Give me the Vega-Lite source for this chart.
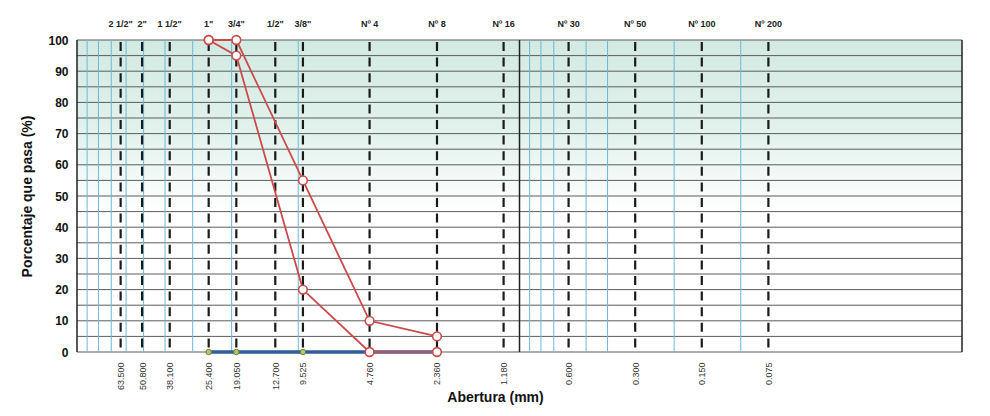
{
  "$schema": "https://vega.github.io/schema/vega-lite/v6.json",
  "width": 885,
  "height": 312,
  "autosize": {"type": "none"},
  "padding": {"left": 77, "top": 40, "right": 28, "bottom": 64},
  "background": "white",
  "config": {"view": {"stroke": null}, "font": "Liberation Sans"},
  "datasets": {
    "sieves": [
      {"name": "2 1/2\"", "mm": 63.5},
      {"name": "2\"", "mm": 50.8},
      {"name": "1 1/2\"", "mm": 38.1},
      {"name": "1\"", "mm": 25.4},
      {"name": "3/4\"", "mm": 19.05},
      {"name": "1/2\"", "mm": 12.7},
      {"name": "3/8\"", "mm": 9.525},
      {"name": "Nº 4", "mm": 4.76},
      {"name": "Nº 8", "mm": 2.36},
      {"name": "Nº 16", "mm": 1.18},
      {"name": "Nº 30", "mm": 0.6},
      {"name": "Nº 50", "mm": 0.3},
      {"name": "Nº 100", "mm": 0.15},
      {"name": "Nº 200", "mm": 0.075}
    ],
    "bluegrid": [
      {"mm": 90}, {"mm": 80}, {"mm": 70}, {"mm": 60}, {"mm": 50}, {"mm": 40}, {"mm": 30}, {"mm": 20}, {"mm": 10},
      {"mm": 0.9}, {"mm": 0.8}, {"mm": 0.7}, {"mm": 0.5}, {"mm": 0.4}, {"mm": 0.2}, {"mm": 0.1}
    ],
    "blackgrid": [{"mm": 100}, {"mm": 1}, {"mm": 0.01}],
    "hgrid": [
      {"pct": 0}, {"pct": 5}, {"pct": 10}, {"pct": 15}, {"pct": 20}, {"pct": 25}, {"pct": 30}, {"pct": 35}, {"pct": 40}, {"pct": 45}, {"pct": 50},
      {"pct": 55}, {"pct": 60}, {"pct": 65}, {"pct": 70}, {"pct": 75}, {"pct": 80}, {"pct": 85}, {"pct": 90}, {"pct": 95}, {"pct": 100}
    ],
    "sample": [
      {"mm": 25.4, "pct": 0},
      {"mm": 19.05, "pct": 0},
      {"mm": 9.525, "pct": 0},
      {"mm": 4.76, "pct": 0},
      {"mm": 2.36, "pct": 0}
    ],
    "limits": [
      {"series": "superior", "mm": 25.4, "pct": 100},
      {"series": "superior", "mm": 19.05, "pct": 100},
      {"series": "superior", "mm": 9.525, "pct": 55},
      {"series": "superior", "mm": 4.76, "pct": 10},
      {"series": "superior", "mm": 2.36, "pct": 5},
      {"series": "inferior", "mm": 25.4, "pct": 100},
      {"series": "inferior", "mm": 19.05, "pct": 95},
      {"series": "inferior", "mm": 9.525, "pct": 20},
      {"series": "inferior", "mm": 4.76, "pct": 0},
      {"series": "inferior", "mm": 2.36, "pct": 0}
    ],
    "frame": [{"from": 100, "to": 0.01}]
  },
  "layer": [
    {
      "data": {"name": "frame"},
      "mark": {
        "type": "rect",
        "fill": {
          "gradient": "linear", "x1": 0, "y1": 0, "x2": 0, "y2": 1,
          "stops": [
            {"offset": 0, "color": "#d2eae2"},
            {"offset": 0.3, "color": "#e2f2ec"},
            {"offset": 0.55, "color": "#ffffff"},
            {"offset": 1, "color": "#ffffff"}
          ]
        }
      },
      "encoding": {
        "x": {"field": "from", "type": "quantitative", "scale": {"type": "log", "domain": [0.01, 100], "reverse": true},
          "axis": {"values": [63.5, 50.8, 38.1, 25.4, 19.05, 12.7, 9.525, 4.76, 2.36, 1.18, 0.6, 0.3, 0.15, 0.075], "format": ".3f", "labelAngle": -90, "labelFontSize": 9, "labelColor": "#333", "labelPadding": 10, "ticks": false, "domain": false, "grid": false, "title": "Abertura (mm)", "titleFontSize": 14, "titleFontWeight": "bold", "titleColor": "#111", "titleX": 418, "titleY": 45, "titleAlign": "center", "titleBaseline": "middle"}},
        "x2": {"field": "to"},
        "y": {"datum": 100, "type": "quantitative", "scale": {"domain": [0, 100]},
          "axis": {"values": [0, 10, 20, 30, 40, 50, 60, 70, 80, 90, 100], "ticks": false, "domain": false, "grid": false, "labelFontSize": 12, "labelFontWeight": "bold", "labelColor": "#111", "labelPadding": 9, "title": "Porcentaje que pasa (%)", "titleFontSize": 14, "titleFontWeight": "bold", "titleColor": "#111", "titleX": -50, "titleY": 156, "titleAlign": "center", "titleBaseline": "middle", "titleAngle": -90}},
        "y2": {"datum": 0}
      }
    },
    {
      "data": {"name": "hgrid"},
      "mark": {"type": "rule", "color": "#5c5c5c", "strokeWidth": 1},
      "encoding": {
        "x": {"datum": 100, "type": "quantitative", "scale": {"type": "log", "domain": [0.01, 100], "reverse": true},
          "axis": {"values": [63.5, 50.8, 38.1, 25.4, 19.05, 12.7, 9.525, 4.76, 2.36, 1.18, 0.6, 0.3, 0.15, 0.075], "format": ".3f", "labelAngle": -90, "labelFontSize": 9, "labelColor": "#333", "labelPadding": 10, "ticks": false, "domain": false, "grid": false, "title": "Abertura (mm)", "titleFontSize": 14, "titleFontWeight": "bold", "titleColor": "#111", "titleX": 418, "titleY": 45, "titleAlign": "center", "titleBaseline": "middle"}},
        "x2": {"datum": 0.01},
        "y": {"field": "pct", "type": "quantitative", "scale": {"domain": [0, 100]},
          "axis": {"values": [0, 10, 20, 30, 40, 50, 60, 70, 80, 90, 100], "ticks": false, "domain": false, "grid": false, "labelFontSize": 12, "labelFontWeight": "bold", "labelColor": "#111", "labelPadding": 9, "title": "Porcentaje que pasa (%)", "titleFontSize": 14, "titleFontWeight": "bold", "titleColor": "#111", "titleX": -50, "titleY": 156, "titleAlign": "center", "titleBaseline": "middle", "titleAngle": -90}}
      }
    },
    {
      "data": {"name": "bluegrid"},
      "mark": {"type": "rule", "color": "#6cb9d6", "strokeWidth": 1},
      "encoding": {
        "x": {"field": "mm", "type": "quantitative", "scale": {"type": "log", "domain": [0.01, 100], "reverse": true},
          "axis": {"values": [63.5, 50.8, 38.1, 25.4, 19.05, 12.7, 9.525, 4.76, 2.36, 1.18, 0.6, 0.3, 0.15, 0.075], "format": ".3f", "labelAngle": -90, "labelFontSize": 9, "labelColor": "#333", "labelPadding": 10, "ticks": false, "domain": false, "grid": false, "title": "Abertura (mm)", "titleFontSize": 14, "titleFontWeight": "bold", "titleColor": "#111", "titleX": 418, "titleY": 45, "titleAlign": "center", "titleBaseline": "middle"}},
        "y": {"datum": 0, "type": "quantitative", "scale": {"domain": [0, 100]},
          "axis": {"values": [0, 10, 20, 30, 40, 50, 60, 70, 80, 90, 100], "ticks": false, "domain": false, "grid": false, "labelFontSize": 12, "labelFontWeight": "bold", "labelColor": "#111", "labelPadding": 9, "title": "Porcentaje que pasa (%)", "titleFontSize": 14, "titleFontWeight": "bold", "titleColor": "#111", "titleX": -50, "titleY": 156, "titleAlign": "center", "titleBaseline": "middle", "titleAngle": -90}},
        "y2": {"datum": 100}
      }
    },
    {
      "data": {"name": "blackgrid"},
      "mark": {"type": "rule", "color": "#222", "strokeWidth": 1.5},
      "encoding": {
        "x": {"field": "mm", "type": "quantitative", "scale": {"type": "log", "domain": [0.01, 100], "reverse": true},
          "axis": {"values": [63.5, 50.8, 38.1, 25.4, 19.05, 12.7, 9.525, 4.76, 2.36, 1.18, 0.6, 0.3, 0.15, 0.075], "format": ".3f", "labelAngle": -90, "labelFontSize": 9, "labelColor": "#333", "labelPadding": 10, "ticks": false, "domain": false, "grid": false, "title": "Abertura (mm)", "titleFontSize": 14, "titleFontWeight": "bold", "titleColor": "#111", "titleX": 418, "titleY": 45, "titleAlign": "center", "titleBaseline": "middle"}},
        "y": {"datum": 0, "type": "quantitative", "scale": {"domain": [0, 100]},
          "axis": {"values": [0, 10, 20, 30, 40, 50, 60, 70, 80, 90, 100], "ticks": false, "domain": false, "grid": false, "labelFontSize": 12, "labelFontWeight": "bold", "labelColor": "#111", "labelPadding": 9, "title": "Porcentaje que pasa (%)", "titleFontSize": 14, "titleFontWeight": "bold", "titleColor": "#111", "titleX": -50, "titleY": 156, "titleAlign": "center", "titleBaseline": "middle", "titleAngle": -90}},
        "y2": {"datum": 100}
      }
    },
    {
      "data": {"name": "sieves"},
      "mark": {"type": "rule", "color": "#1a1a1a", "strokeWidth": 2.2, "strokeDash": [9, 6.6], "strokeDashOffset": -2},
      "encoding": {
        "x": {"field": "mm", "type": "quantitative", "scale": {"type": "log", "domain": [0.01, 100], "reverse": true},
          "axis": {"values": [63.5, 50.8, 38.1, 25.4, 19.05, 12.7, 9.525, 4.76, 2.36, 1.18, 0.6, 0.3, 0.15, 0.075], "format": ".3f", "labelAngle": -90, "labelFontSize": 9, "labelColor": "#333", "labelPadding": 10, "ticks": false, "domain": false, "grid": false, "title": "Abertura (mm)", "titleFontSize": 14, "titleFontWeight": "bold", "titleColor": "#111", "titleX": 418, "titleY": 45, "titleAlign": "center", "titleBaseline": "middle"}},
        "y": {"datum": 100, "type": "quantitative", "scale": {"domain": [0, 100]},
          "axis": {"values": [0, 10, 20, 30, 40, 50, 60, 70, 80, 90, 100], "ticks": false, "domain": false, "grid": false, "labelFontSize": 12, "labelFontWeight": "bold", "labelColor": "#111", "labelPadding": 9, "title": "Porcentaje que pasa (%)", "titleFontSize": 14, "titleFontWeight": "bold", "titleColor": "#111", "titleX": -50, "titleY": 156, "titleAlign": "center", "titleBaseline": "middle", "titleAngle": -90}},
        "y2": {"datum": 0}
      }
    },
    {
      "data": {"name": "sieves"},
      "mark": {"type": "text", "fontSize": 9, "fontWeight": "bold", "color": "#222", "dy": -16, "baseline": "middle", "align": "center"},
      "encoding": {
        "x": {"field": "mm", "type": "quantitative", "scale": {"type": "log", "domain": [0.01, 100], "reverse": true},
          "axis": {"values": [63.5, 50.8, 38.1, 25.4, 19.05, 12.7, 9.525, 4.76, 2.36, 1.18, 0.6, 0.3, 0.15, 0.075], "format": ".3f", "labelAngle": -90, "labelFontSize": 9, "labelColor": "#333", "labelPadding": 10, "ticks": false, "domain": false, "grid": false, "title": "Abertura (mm)", "titleFontSize": 14, "titleFontWeight": "bold", "titleColor": "#111", "titleX": 418, "titleY": 45, "titleAlign": "center", "titleBaseline": "middle"}},
        "y": {"datum": 100, "type": "quantitative", "scale": {"domain": [0, 100]},
          "axis": {"values": [0, 10, 20, 30, 40, 50, 60, 70, 80, 90, 100], "ticks": false, "domain": false, "grid": false, "labelFontSize": 12, "labelFontWeight": "bold", "labelColor": "#111", "labelPadding": 9, "title": "Porcentaje que pasa (%)", "titleFontSize": 14, "titleFontWeight": "bold", "titleColor": "#111", "titleX": -50, "titleY": 156, "titleAlign": "center", "titleBaseline": "middle", "titleAngle": -90}},
        "text": {"field": "name"}
      }
    },
    {
      "data": {"name": "sample"},
      "mark": {"type": "line", "color": "#2d5d9c", "strokeWidth": 3.5},
      "encoding": {
        "x": {"field": "mm", "type": "quantitative", "scale": {"type": "log", "domain": [0.01, 100], "reverse": true},
          "axis": {"values": [63.5, 50.8, 38.1, 25.4, 19.05, 12.7, 9.525, 4.76, 2.36, 1.18, 0.6, 0.3, 0.15, 0.075], "format": ".3f", "labelAngle": -90, "labelFontSize": 9, "labelColor": "#333", "labelPadding": 10, "ticks": false, "domain": false, "grid": false, "title": "Abertura (mm)", "titleFontSize": 14, "titleFontWeight": "bold", "titleColor": "#111", "titleX": 418, "titleY": 45, "titleAlign": "center", "titleBaseline": "middle"}},
        "y": {"field": "pct", "type": "quantitative", "scale": {"domain": [0, 100]},
          "axis": {"values": [0, 10, 20, 30, 40, 50, 60, 70, 80, 90, 100], "ticks": false, "domain": false, "grid": false, "labelFontSize": 12, "labelFontWeight": "bold", "labelColor": "#111", "labelPadding": 9, "title": "Porcentaje que pasa (%)", "titleFontSize": 14, "titleFontWeight": "bold", "titleColor": "#111", "titleX": -50, "titleY": 156, "titleAlign": "center", "titleBaseline": "middle", "titleAngle": -90}}
      }
    },
    {
      "data": {"name": "sample"},
      "mark": {"type": "point", "filled": true, "fill": "#b8c667", "stroke": "#6a7f35", "strokeWidth": 1, "size": 30, "opacity": 1},
      "encoding": {
        "x": {"field": "mm", "type": "quantitative", "scale": {"type": "log", "domain": [0.01, 100], "reverse": true},
          "axis": {"values": [63.5, 50.8, 38.1, 25.4, 19.05, 12.7, 9.525, 4.76, 2.36, 1.18, 0.6, 0.3, 0.15, 0.075], "format": ".3f", "labelAngle": -90, "labelFontSize": 9, "labelColor": "#333", "labelPadding": 10, "ticks": false, "domain": false, "grid": false, "title": "Abertura (mm)", "titleFontSize": 14, "titleFontWeight": "bold", "titleColor": "#111", "titleX": 418, "titleY": 45, "titleAlign": "center", "titleBaseline": "middle"}},
        "y": {"field": "pct", "type": "quantitative", "scale": {"domain": [0, 100]},
          "axis": {"values": [0, 10, 20, 30, 40, 50, 60, 70, 80, 90, 100], "ticks": false, "domain": false, "grid": false, "labelFontSize": 12, "labelFontWeight": "bold", "labelColor": "#111", "labelPadding": 9, "title": "Porcentaje que pasa (%)", "titleFontSize": 14, "titleFontWeight": "bold", "titleColor": "#111", "titleX": -50, "titleY": 156, "titleAlign": "center", "titleBaseline": "middle", "titleAngle": -90}}
      }
    },
    {
      "data": {"name": "limits"},
      "mark": {"type": "line", "color": "#cc4a4a", "strokeWidth": 1.8},
      "encoding": {
        "x": {"field": "mm", "type": "quantitative", "scale": {"type": "log", "domain": [0.01, 100], "reverse": true},
          "axis": {"values": [63.5, 50.8, 38.1, 25.4, 19.05, 12.7, 9.525, 4.76, 2.36, 1.18, 0.6, 0.3, 0.15, 0.075], "format": ".3f", "labelAngle": -90, "labelFontSize": 9, "labelColor": "#333", "labelPadding": 10, "ticks": false, "domain": false, "grid": false, "title": "Abertura (mm)", "titleFontSize": 14, "titleFontWeight": "bold", "titleColor": "#111", "titleX": 418, "titleY": 45, "titleAlign": "center", "titleBaseline": "middle"}},
        "y": {"field": "pct", "type": "quantitative", "scale": {"domain": [0, 100]},
          "axis": {"values": [0, 10, 20, 30, 40, 50, 60, 70, 80, 90, 100], "ticks": false, "domain": false, "grid": false, "labelFontSize": 12, "labelFontWeight": "bold", "labelColor": "#111", "labelPadding": 9, "title": "Porcentaje que pasa (%)", "titleFontSize": 14, "titleFontWeight": "bold", "titleColor": "#111", "titleX": -50, "titleY": 156, "titleAlign": "center", "titleBaseline": "middle", "titleAngle": -90}},
        "detail": {"field": "series"}
      }
    },
    {
      "data": {"name": "limits"},
      "mark": {"type": "point", "filled": false, "fill": "white", "fillOpacity": 1, "stroke": "#cc4a4a", "strokeWidth": 1.6, "size": 75, "opacity": 1},
      "encoding": {
        "x": {"field": "mm", "type": "quantitative", "scale": {"type": "log", "domain": [0.01, 100], "reverse": true},
          "axis": {"values": [63.5, 50.8, 38.1, 25.4, 19.05, 12.7, 9.525, 4.76, 2.36, 1.18, 0.6, 0.3, 0.15, 0.075], "format": ".3f", "labelAngle": -90, "labelFontSize": 9, "labelColor": "#333", "labelPadding": 10, "ticks": false, "domain": false, "grid": false, "title": "Abertura (mm)", "titleFontSize": 14, "titleFontWeight": "bold", "titleColor": "#111", "titleX": 418, "titleY": 45, "titleAlign": "center", "titleBaseline": "middle"}},
        "y": {"field": "pct", "type": "quantitative", "scale": {"domain": [0, 100]},
          "axis": {"values": [0, 10, 20, 30, 40, 50, 60, 70, 80, 90, 100], "ticks": false, "domain": false, "grid": false, "labelFontSize": 12, "labelFontWeight": "bold", "labelColor": "#111", "labelPadding": 9, "title": "Porcentaje que pasa (%)", "titleFontSize": 14, "titleFontWeight": "bold", "titleColor": "#111", "titleX": -50, "titleY": 156, "titleAlign": "center", "titleBaseline": "middle", "titleAngle": -90}}
      }
    }
  ]
}
